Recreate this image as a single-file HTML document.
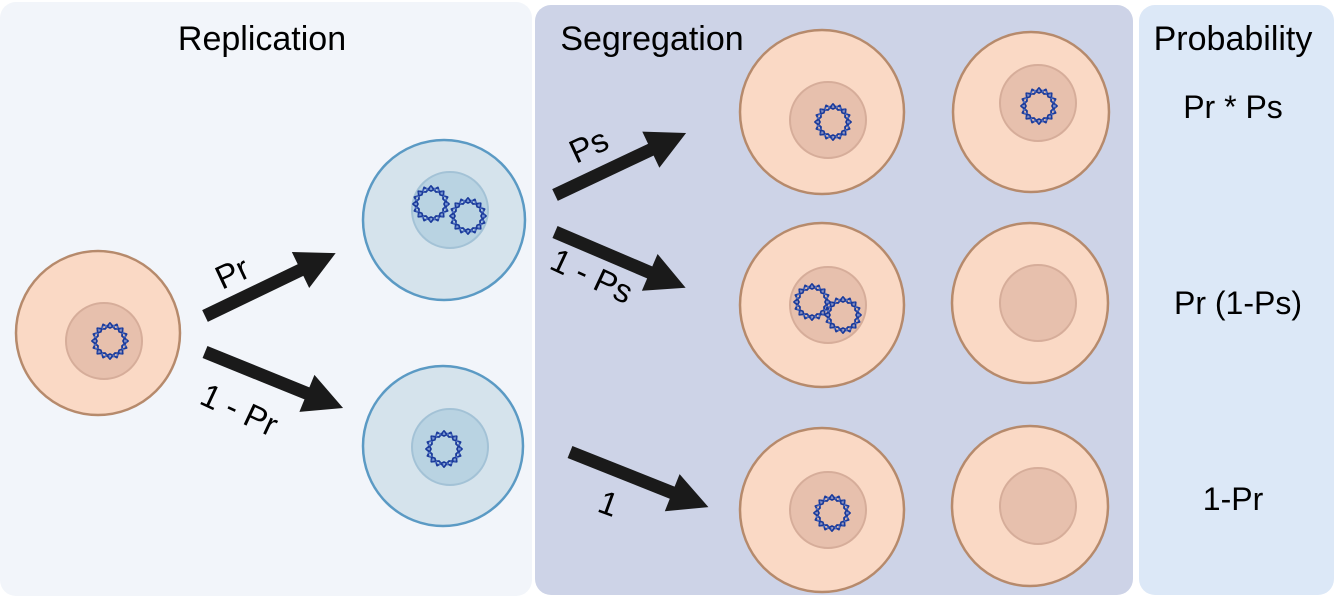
<!DOCTYPE html>
<html><head><meta charset="utf-8"><style>
html,body{margin:0;padding:0;background:#fff;}
svg{display:block;font-family:"Liberation Sans",sans-serif;}
</style></head><body>
<svg width="1336" height="598" viewBox="0 0 1336 598" xmlns="http://www.w3.org/2000/svg">
<defs>
<g id="dna">
<polygon points="18,0 12,5 12.7,12.7 5,12 0,18 -5,12 -12.7,12.7 -12,5 -18,0 -12,-5 -12.7,-12.7 -5,-12 0,-18 5,-12 12.7,-12.7 12,-5" fill="none" stroke="#1a3a9a" stroke-width="1.8" stroke-linejoin="round"/>
<polygon points="16.6,6.9 9.2,9.2 6.9,16.6 0,13 -6.9,16.6 -9.2,9.2 -16.6,6.9 -13,0 -16.6,-6.9 -9.2,-9.2 -6.9,-16.6 0,-13 6.9,-16.6 9.2,-9.2 16.6,-6.9 13,0" fill="none" stroke="#1a3a9a" stroke-width="1.8" stroke-linejoin="round"/>
<circle r="15.5" fill="none" stroke="#5f7fd0" stroke-width="3" stroke-dasharray="1.5 2.5" opacity="0.7"/>
</g>
<g id="oc"><ellipse rx="82" ry="82" fill="#fad9c5" stroke="#b68a6c" stroke-width="2.5"/></g>
<g id="oc2"><ellipse rx="78" ry="80" fill="#fad9c5" stroke="#b68a6c" stroke-width="2.5"/></g>
<circle id="nuc" r="38" fill="#e7c0ad" stroke="#d6ad9a" stroke-width="2"/>
</defs>
<rect x="0" y="2" width="532" height="594" rx="16" fill="#f2f5fa"/>
<rect x="535" y="5" width="598" height="590" rx="16" fill="#cdd3e7"/>
<rect x="1139" y="5" width="195" height="590" rx="16" fill="#dce8f7"/>

<text x="262" y="50" font-size="34" text-anchor="middle">Replication</text>
<text x="652" y="50" font-size="34" text-anchor="middle">Segregation</text>
<text x="1233" y="50" font-size="34" text-anchor="middle">Probability</text>
<text x="1233" y="118" font-size="32" text-anchor="middle">Pr * Ps</text>
<text x="1238" y="314" font-size="32" text-anchor="middle">Pr (1-Ps)</text>
<text x="1233" y="510" font-size="32" text-anchor="middle">1-Pr</text>

<g transform="translate(98,333)"><use href="#oc"/><use href="#nuc" transform="translate(6,8)"/><use href="#dna" transform="translate(12,8)"/></g>
<ellipse cx="444" cy="220" rx="81" ry="80" fill="#d5e3ec" stroke="#5b9ac4" stroke-width="2.5"/>
<circle cx="450" cy="210" r="38" fill="#b9d3e2" stroke="#a3c2d6" stroke-width="2"/>
<g transform="translate(431,204)"><use href="#dna"/></g>
<g transform="translate(468,216)"><use href="#dna"/></g>
<ellipse cx="443" cy="446" rx="80" ry="80" fill="#d5e3ec" stroke="#5b9ac4" stroke-width="2.5"/>
<circle cx="450" cy="447" r="38" fill="#b9d3e2" stroke="#a3c2d6" stroke-width="2"/>
<g transform="translate(444,449)"><use href="#dna"/></g>

<g transform="translate(822,112)"><use href="#oc"/><use href="#nuc" transform="translate(6,8)"/><use href="#dna" transform="translate(11,10)"/></g>
<g transform="translate(1031,112)"><use href="#oc2"/><use href="#nuc" transform="translate(7,-9)"/><use href="#dna" transform="translate(8,-6)"/></g>
<g transform="translate(822,305)"><use href="#oc"/><use href="#nuc" transform="translate(6,0)"/><use href="#dna" transform="translate(-10,-3)"/><use href="#dna" transform="translate(21,10)"/></g>
<g transform="translate(1030,303)"><use href="#oc2"/><use href="#nuc" transform="translate(8,0)"/></g>
<g transform="translate(822,510)"><use href="#oc"/><use href="#nuc" transform="translate(6,0)"/><use href="#dna" transform="translate(10,3)"/></g>
<g transform="translate(1030,506)"><use href="#oc2"/><use href="#nuc" transform="translate(8,0)"/></g>

<g fill="#1a1a1a">
<g transform="translate(205,316) rotate(-25.7)"><rect x="0" y="-6.5" width="110" height="13"/><polygon points="106,-20 145,0 106,20"/></g>
<g transform="translate(205,352) rotate(22.1)"><rect x="0" y="-6.5" width="114" height="13"/><polygon points="110,-20 149,0 110,20"/></g>
<g transform="translate(555,195) rotate(-25.3)"><rect x="0" y="-6.5" width="110" height="13"/><polygon points="106,-20 145,0 106,20"/></g>
<g transform="translate(555,232) rotate(23.1)"><rect x="0" y="-6.5" width="107" height="13"/><polygon points="103,-20 142,0 103,20"/></g>
<g transform="translate(570,452) rotate(21.7)"><rect x="0" y="-6.5" width="114" height="13"/><polygon points="110,-20 149,0 110,20"/></g>
</g>

<text font-size="33" transform="translate(222,290) rotate(-25)">Pr</text>
<text font-size="33" transform="translate(198,403) rotate(25)">1 - Pr</text>
<text font-size="33" transform="translate(576,164) rotate(-25)">Ps</text>
<text font-size="33" transform="translate(548,268) rotate(25)">1 - Ps</text>
<text font-size="33" transform="translate(596,511) rotate(20)">1</text>
</svg>
</body></html>
